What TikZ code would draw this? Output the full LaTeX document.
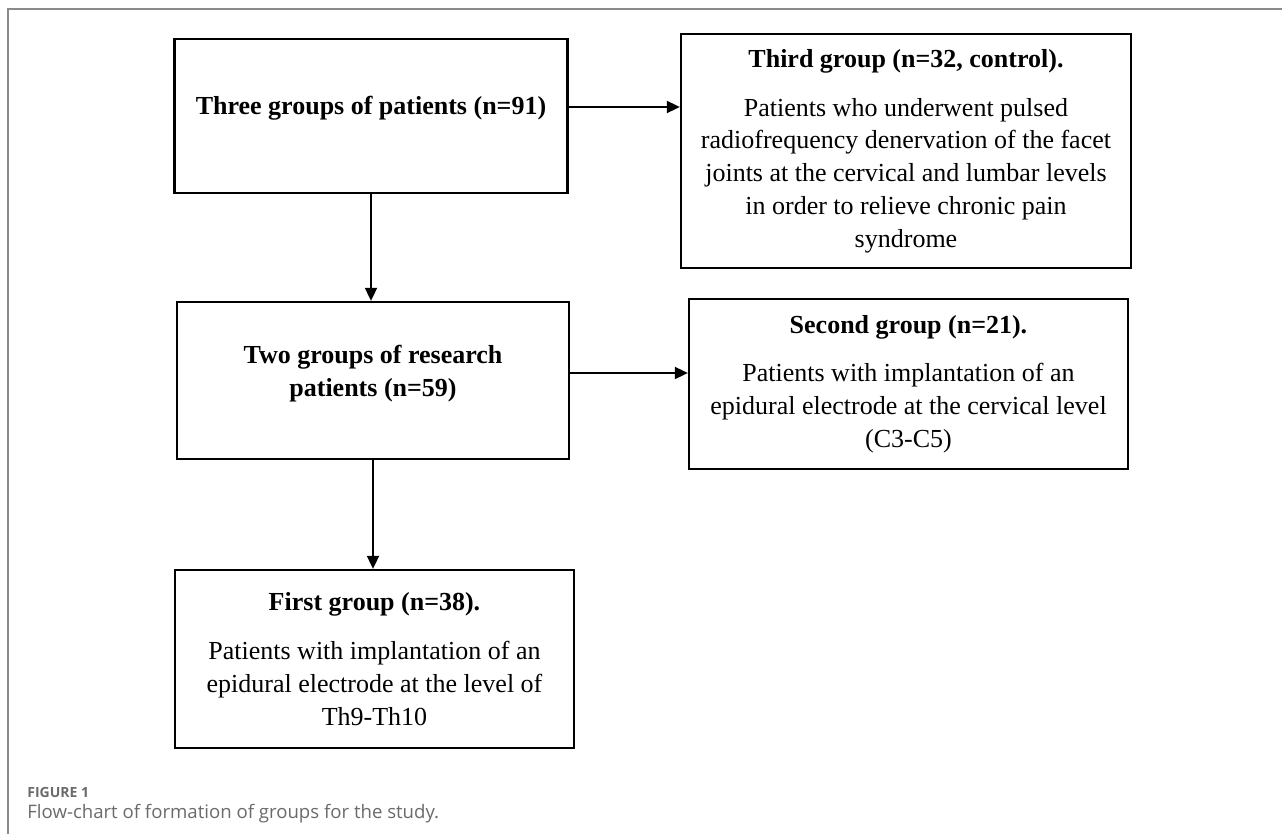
\documentclass[tikz,border=0pt]{standalone}
\usepackage{fontspec}
\setmainfont{Liberation Serif}
\newfontfamily\capfont{Open Sans}
\usepackage{xcolor}
\usetikzlibrary{arrows, arrows.meta}

\definecolor{framegray}{HTML}{8A8A8A}
\definecolor{capgray}{HTML}{6A6A6A}

\begin{document}
\begin{tikzpicture}[x=0.5pt,y=-0.5pt,
  box/.style={draw=black,line width=1.15pt,rectangle,inner sep=0pt,align=center,
    font=\fontsize{13pt}{16.4pt}\selectfont},
  arr/.style={line width=0.9pt,-{Triangle[length=6.5pt,width=6pt]}},
  captxt/.style={anchor=west,inner sep=0pt,text=capgray}]
\useasboundingbox (0,0) rectangle (1282,834);
% frame of the figure
\draw[framegray,line width=0.7pt] (8,834) -- (8,9) -- (1282,9);
% boxes
\node[box,minimum width=196.5pt,minimum height=77pt,text depth=11pt] (all) at (371,116)
  {\textbf{Three groups of patients (n=91)}};
\node[box,minimum width=225pt,minimum height=117pt] (third) at (906,151)
  {\textbf{Third group (n=32, control).}\\[8pt]
   Patients who underwent pulsed\\
   radiofrequency denervation of the facet\\
   joints at the cervical and lumbar levels\\
   in order to relieve chronic pain\\
   syndrome};
\node[box,minimum width=196pt,minimum height=78.5pt,text depth=10pt] (res) at (373,380.5)
  {\textbf{Two groups of research}\\ \textbf{patients (n=59)}};
\node[box,minimum width=219.5pt,minimum height=85pt] (second) at (908.5,384)
  {\textbf{Second group (n=21).}\\[8pt]
   Patients with implantation of an\\
   epidural electrode at the cervical level\\
   (C3-C5)};
\node[box,minimum width=199.5pt,minimum height=89pt] (first) at (374.5,659)
  {\textbf{First group (n=38).}\\[8pt]
   Patients with implantation of an\\
   epidural electrode at the level of\\
   Th9-Th10};
% arrows
\draw[arr] ([yshift=4.5pt]all.east) -- ([yshift=4.5pt]all.east -| third.west);
\draw[arr] (all.south) -- (all.south |- res.north);
\draw[arr] ([yshift=3.75pt]res.east) -- ([yshift=3.75pt]res.east -| second.west);
\draw[arr] (res.south) -- (res.south |- first.north);
% caption
\node[captxt,font=\capfont\bfseries\fontsize{7pt}{8pt}\selectfont] (fig) at (27,792) {FIGURE 1};
\node[captxt,font=\capfont\fontsize{9.3pt}{11pt}\selectfont] (cap) at (27,814) {Flow-chart of formation of groups for the study.};
\end{tikzpicture}
\end{document}
